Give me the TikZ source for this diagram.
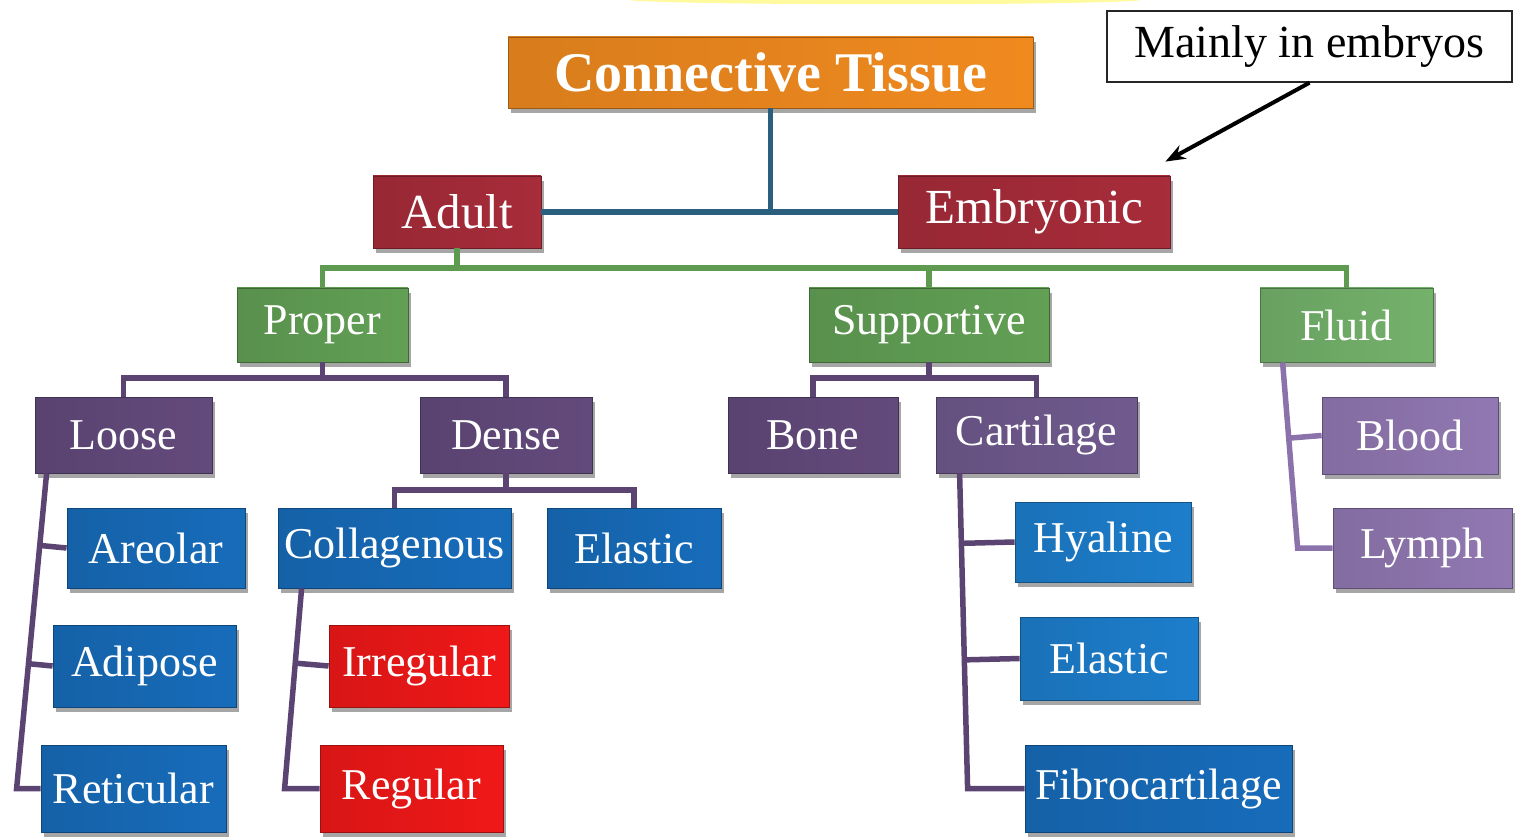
\documentclass[tikz,border=0pt]{standalone}
\usepackage{fontspec}
\setmainfont{Liberation Serif}
\usetikzlibrary{shadows,arrows.meta,calc}

\definecolor{cOrange}{HTML}{F08A1F}
\definecolor{cWine}{HTML}{A82C3A}
\definecolor{cGreen}{HTML}{62A055}
\definecolor{cGreenL}{HTML}{74B26B}
\definecolor{cPurple}{HTML}{634A7C}
\definecolor{cPurpleM}{HTML}{705A8E}
\definecolor{cPurpleL}{HTML}{9178B2}
\definecolor{cBlue}{HTML}{176CBA}
\definecolor{cBlueL}{HTML}{1D7ECC}
\definecolor{cRed}{HTML}{F01818}
\definecolor{lnTeal}{HTML}{2B5F7E}
\definecolor{lnGreen}{HTML}{5E9A50}
\definecolor{lnPurple}{HTML}{5B4372}
\definecolor{lnPurpleL}{HTML}{8C72AA}

\begin{document}
\begin{tikzpicture}[x=1pt, y=-1pt,
    block/.style={rectangle, inner sep=0pt, text=white, align=center,
        left color=#1!90!black, right color=#1, draw=#1!65!black, line width=0.8pt,
        drop shadow={shadow xshift=3pt, shadow yshift=-5pt, opacity=0.35, fill=black}},
    sz/.style 2 args={minimum width=#1pt, minimum height=#2pt},
    ttl/.style={font=\fontsize{56}{60}\selectfont\bfseries},
    lvlone/.style={font=\fontsize{49}{54}\selectfont},
    lvl/.style={font=\fontsize{44}{48}\selectfont},
    note/.style={rectangle, draw=black!85, line width=1.4pt, fill=white, inner sep=0pt,
        font=\fontsize{46}{50}\selectfont},
    link/.style={draw=#1, line width=5.5pt},
    arrow/.style={-{Stealth[length=20pt,width=15pt]}, line width=4pt}
]
\useasboundingbox (0,0) rectangle (1516,837);

% highlight remnant at the top
\draw[yellow!55, line width=5pt, opacity=0.7, line cap=round]
    (632,-2) .. controls (700,3) and (1080,3) .. (1138,-2);

% Top levels
\node[block=cOrange, sz={525}{71}, ttl] (ct) at (770.5,72.5) {Connective Tissue};
\node[block=cWine, sz={168}{72}, lvlone] (adult) at (457,212) {Adult};
\node[block=cWine, sz={272}{72}, lvlone] (embr) at (1034,212) {Embryonic};
\node[note, sz={405}{71}] (mainly) at (1309.5,46.5) {Mainly in embryos};

% Adult types
\node[block=cGreen, sz={171}{74}, lvl] (proper) at (322.5,325) {Proper};
\node[block=cGreen, sz={240}{74}, lvl] (supp) at (929,325) {Supportive};
\node[block=cGreenL, sz={173}{74}, lvl] (fluid) at (1346.5,325) {Fluid};

% Third level
\node[block=cPurple, sz={177}{76}, lvl] (loose) at (123.5,435) {Loose};
\node[block=cPurple, sz={172}{76}, lvl] (dense) at (506,435) {Dense};
\node[block=cPurple, sz={170}{76}, lvl] (bone) at (813,435) {Bone};
\node[block=cPurpleM, sz={201}{76}, lvl] (cart) at (1036.5,435) {Cartilage};
\node[block=cPurpleL, sz={176}{77}, lvl] (blood) at (1410,435.5) {Blood};
\node[block=cPurpleL, sz={179}{80}, lvl] (lymph) at (1422.5,548) {Lymph};

% Loose
\node[block=cBlue, sz={178}{80}, lvl] (areolar) at (156,548) {Areolar};
\node[block=cBlue, sz={183}{82}, lvl] (adipose) at (144.5,666) {Adipose};
\node[block=cBlue, sz={185}{87}, lvl] (reticular) at (133.5,788.5) {Reticular};

% Dense
\node[block=cBlue, sz={233}{80}, lvl] (colla) at (394.5,548) {Collagenous};
\node[block=cBlue, sz={174}{80}, lvl] (elasticd) at (634,548) {Elastic};
\node[block=cRed, sz={180}{82}, lvl] (irregular) at (419,666) {Irregular};
\node[block=cRed, sz={183}{87}, lvl] (regular) at (411.5,788.5) {Regular};

% Cartilage
\node[block=cBlueL, sz={176}{80}, lvl] (hyaline) at (1103,542) {Hyaline};
\node[block=cBlueL, sz={178}{83}, lvl] (elasticc) at (1109,658.5) {Elastic};
\node[block=cBlue, sz={267}{87}, lvl] (fibro) at (1158.5,788.5) {Fibrocartilage};

% Bars
\coordinate (gbar) at (0,268);
\coordinate (pbar) at (0,378);
\coordinate (dbar) at (0,490);

\draw[link=lnTeal] (adult.east) -- (embr.west);
\draw[link=lnTeal] (ct.south) -- (ct.south |- adult.east);

\draw[link=lnGreen] (adult.south) -- (adult.south |- gbar);
\draw[link=lnGreen] (proper.north) |- (gbar -| fluid.north) -- (fluid.north);
\draw[link=lnGreen] (supp.north) -- (supp.north |- gbar);

\draw[link=lnPurple] (proper.south) -- (proper.south |- pbar);
\draw[link=lnPurple] (loose.north) |- (pbar -| dense.north) -- (dense.north);
\draw[link=lnPurple] (supp.south) -- (supp.south |- pbar);
\draw[link=lnPurple] (bone.north) |- (pbar -| cart.north) -- (cart.north);
\draw[link=lnPurple] (dense.south) -- (dense.south |- dbar);
\draw[link=lnPurple] (colla.north) |- (dbar -| elasticd.north) -- (elasticd.north);

% Trunks
\coordinate (ltop) at ($(loose.south west)+(12,0)$);
\coordinate (lbot) at ($(reticular.west)+(-24,0)$);
\draw[link=lnPurple] (ltop) -- (lbot) -- (reticular.west);
\draw[link=lnPurple] (areolar.west) -- ($(ltop)!(areolar.west)!(lbot)$);
\draw[link=lnPurple] (adipose.west) -- ($(ltop)!(adipose.west)!(lbot)$);

\coordinate (ctop) at ($(colla.south west)+(24,0)$);
\coordinate (cbot) at ($(regular.west)+(-35,0)$);
\draw[link=lnPurple] (ctop) -- (cbot) -- (regular.west);
\draw[link=lnPurple] (irregular.west) -- ($(ctop)!(irregular.west)!(cbot)$);

\coordinate (atop) at ($(cart.south west)+(24,0)$);
\coordinate (abot) at ($(fibro.west)+(-57,0)$);
\draw[link=lnPurple] (atop) -- (abot) -- (fibro.west);
\draw[link=lnPurple] (hyaline.west) -- ($(atop)!(hyaline.west)!(abot)$);
\draw[link=lnPurple] (elasticc.west) -- ($(atop)!(elasticc.west)!(abot)$);

\coordinate (ftop) at ($(fluid.south west)+(23,0)$);
\coordinate (fbot) at ($(lymph.west)+(-35,0)$);
\draw[link=lnPurpleL] (ftop) -- (fbot) -- (lymph.west);
\draw[link=lnPurpleL] (blood.west) -- ($(ftop)!(blood.west)!(fbot)$);

% Annotation
\draw[arrow] (mainly.south) -- ($(embr.north east)+(-5,-14)$);

\end{tikzpicture}
\end{document}
